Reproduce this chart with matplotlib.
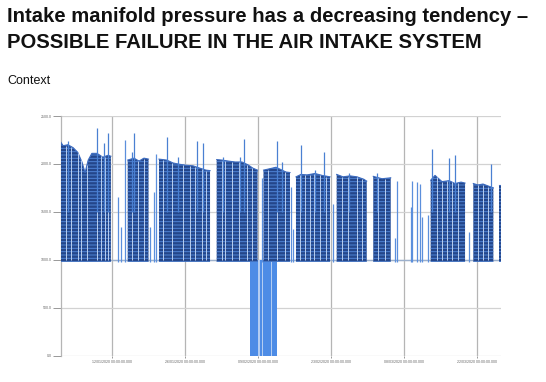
import numpy as np
import pandas as pd
import matplotlib
matplotlib.use("Agg")
import matplotlib.pyplot as plt
import matplotlib.dates as mdates

plt.rcParams['font.family'] = ['Liberation Sans', 'DejaVu Sans']
plt.rcParams['hatch.linewidth'] = 0.7

# ---------------- data (days since 2020-01-12, pressure values) ----------------
REF_DATE = "2020-01-12"

# running blocks: envelope of the upper values
blockA_days = [-9.8, -9.3, -8.4, -7.4, -6.5, -5.7, -5.1, -4.5, -3.8, -2.8, -1.7, -0.7, -0.15]
blockA_vals = [2230, 2190, 2200, 2170, 2120, 2020, 1910, 2040, 2110, 2110, 2070, 2090, 2080]
blockB_days = [3.07, 4.27, 5.23, 6.19, 7.05]
blockB_vals = [2040, 2060, 2030, 2060, 2050]
blockC_days = [9.06, 10.54, 11.75, 13.09, 14.43, 15.58, 16.92, 18.07, 18.84]
blockC_vals = [2050, 2040, 2010, 1995, 1985, 1980, 1955, 1935, 1930]
blockD_days = [20.12, 21.13, 22.28, 23.62, 24.97, 26.12, 27.07, 27.94]
blockD_vals = [2045, 2040, 2030, 2020, 2020, 1990, 1955, 1935]
blockE_days = [29.09, 30.33, 31.48, 32.44, 33.40, 34.16]
blockE_vals = [1935, 1950, 1965, 1940, 1915, 1910]
blockF_days = [35.31, 36.27, 37.42, 38.96, 40.30, 41.83]
blockF_vals = [1865, 1890, 1885, 1900, 1880, 1865]
blockG_days = [43.11, 44.32, 45.66, 47.00, 48.30, 48.86]
blockG_vals = [1890, 1865, 1875, 1865, 1840, 1820]
blockH_days = [50.12, 51.80, 53.46]
blockH_vals = [1870, 1845, 1855]
blockI_days = [61.12, 61.95, 63.29, 64.63, 65.78, 66.93, 67.70]
blockI_vals = [1830, 1880, 1815, 1825, 1795, 1810, 1800]
blockJ_days = [69.29, 70.19, 71.14, 72.10, 73.12]
blockJ_vals = [1795, 1780, 1790, 1770, 1750]
blockK_days = [74.27, 74.60]
blockK_vals = [1780, 1780]

# single peaks inside the blocks
spike_days = [-8.4, -2.76, -1.48, -0.71, 3.83, 4.27, 10.54, 12.61, 16.29, 17.44,
              21.33, 24.58, 25.35, 31.67, 32.57, 36.27, 38.96, 40.74, 45.47, 50.78,
              61.43, 64.69, 65.78, 72.68]
spike_vals = [2240, 2370, 2220, 2320, 2125, 2320, 2280, 2070, 2240, 2220,
              2070, 2070, 2255, 2240, 2020, 2197, 1935, 2120, 1910, 1900,
              2155, 2060, 2097, 1995]

# isolated short runs between blocks
single_days = [1.15, 1.78, 2.55, 7.34, 8.10, 8.49, 28.74, 34.26, 34.80, 42.46,
               54.28, 54.61, 57.29, 57.48, 58.44, 59.07, 59.40, 60.66, 68.52]
single_vals = [1655, 1340, 2250, 1340, 1710, 2105, 1850, 1760, 1325, 1585,
               1225, 1820, 1550, 1820, 1810, 1790, 1445, 1465, 1290]

# short stops inside the blocks
stop_days = [-8.81, -7.80, -6.51, -5.88, -4.73, -2.87, -2.05, -1.28, -0.77,
             3.83, 4.98, 6.25,
             9.89, 11.50, 13.60, 15.00, 15.96, 17.24, 18.07,
             21.08, 21.71, 22.99, 24.39, 25.87, 26.94,
             30.01, 31.73, 33.21,
             36.08, 37.04, 38.00, 38.76, 39.91, 41.00,
             44.07, 45.28, 46.94, 48.02,
             51.08, 52.37,
             62.27, 63.23, 64.19, 65.15, 66.41,
             70.13, 71.20, 72.16]

# drops of the signal to zero (start day, end day)
drop_start = [26.50, 28.42, 29.05, 30.01, 30.77]
drop_end = [27.98, 28.74, 29.89, 30.52, 31.62]
drop_level = 1000

idle_level = 995
low_level = 978

y_ticks = [0, 500, 1000, 1500, 2000, 2500]
x_tick_dates = ["2020-01-12", "2020-01-26", "2020-02-09", "2020-02-23", "2020-03-08", "2020-03-22"]
x_range_days = [-9.77, 74.59]

title_1 = "Intake manifold pressure has a decreasing tendency \u2013"
title_2 = "POSSIBLE FAILURE IN THE AIR INTAKE SYSTEM"
subtitle = "Context"

# ---------------- drawing ----------------
ref_num = mdates.date2num(pd.Timestamp(REF_DATE))


def tnum(days):
    return ref_num + np.asarray(days, dtype=float)


W, H = 546, 382
fig = plt.figure(figsize=(W / 100, H / 100), dpi=100)
fig.text(7 / W, 1 - 22.5 / H, title_1, fontsize=14.6, fontweight='bold', va='baseline', color='#111111')
fig.text(7 / W, 1 - 47.5 / H, title_2, fontsize=14.6, fontweight='bold', va='baseline', color='#111111')
fig.text(7 / W, 1 - 83.5 / H, subtitle, fontsize=9.0, va='baseline', color='#111111')

ax = fig.add_axes([60.7 / W, 1 - 355.5 / H, (501 - 60.7) / W, (355.5 - 116) / H])
ax.set_xlim(tnum(x_range_days[0]), tnum(x_range_days[1]))
ax.set_ylim(0, 2500)

dark = '#24468a'
streak = '#4f84d6'
spike_c = '#4a80d2'

# idle line
ax.plot(tnum(x_range_days), [idle_level, idle_level], color='#9cb0cc', lw=1.0, zorder=2)

# drops to zero
ax.fill_between(tnum([drop_start[0], drop_end[-1]]), 0, drop_level, color='#b3cdf2', lw=0, zorder=2)
for s, e in zip(drop_start, drop_end):
    ax.fill_between(tnum([s, e]), 0, drop_level, color='#4d8ce6', lw=0, zorder=2.1)

blocks = [(blockA_days, blockA_vals), (blockB_days, blockB_vals), (blockC_days, blockC_vals),
          (blockD_days, blockD_vals), (blockE_days, blockE_vals), (blockF_days, blockF_vals),
          (blockG_days, blockG_vals), (blockH_days, blockH_vals), (blockI_days, blockI_vals),
          (blockJ_days, blockJ_vals), (blockK_days, blockK_vals)]

# single runs
ax.vlines(tnum(single_days), low_level, single_vals, color='#5b8fdc', lw=0.9, zorder=3)

for d, v in blocks:
    ax.fill_between(tnum(d), low_level, v, facecolor=dark, edgecolor=streak,
                    hatch='-----', lw=0, zorder=3)
    ax.plot(tnum(d), v, color='#3d6cc0', lw=0.8, zorder=3.2)

# stops inside blocks
all_d = np.concatenate([np.asarray(b[0]) for b in blocks])
all_v = np.concatenate([np.asarray(b[1]) for b in blocks])
stop_top = np.interp(stop_days, all_d, all_v) - 5
ax.vlines(tnum(stop_days), idle_level, stop_top, color='#b9cff0', lw=0.7, zorder=3.5)

# peaks
ax.vlines(tnum(spike_days), 1500, spike_vals, color=spike_c, lw=0.9, zorder=3.6)

# axes styling
ax.set_yticks(y_ticks)
ax.set_yticklabels([f"{v:.1f}" for v in y_ticks])
xt = [mdates.date2num(pd.Timestamp(s)) for s in x_tick_dates]
ax.set_xticks(xt)
ax.xaxis.set_major_formatter(mdates.DateFormatter('%d/%m/%Y %H:%M:%S.000'))
ax.tick_params(axis='both', labelsize=2.6, colors='#888888', labelcolor='#666666', width=0.6)
ax.tick_params(axis='y', length=5.5, pad=0.8)
ax.tick_params(axis='x', length=1.5, pad=1.5)
ax.grid(axis='y', color='#d2d2d2', lw=0.9, zorder=0)
ax.grid(axis='x', color='#b5b5b5', lw=0.9, zorder=0)
ax.set_axisbelow(True)
for side in ['top', 'right', 'bottom']:
    ax.spines[side].set_visible(False)
ax.spines['left'].set_color('#b5b5b5')
ax.spines['left'].set_linewidth(0.9)

fig.savefig('out.png', dpi=100)
